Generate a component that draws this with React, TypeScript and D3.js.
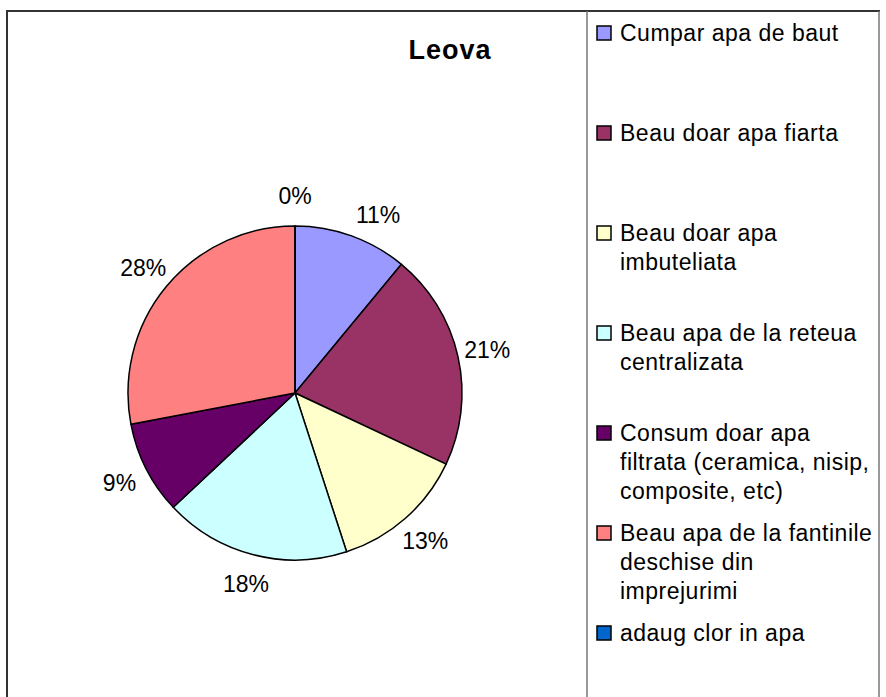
import React from "react";
import * as d3 from "d3";

const categories = [
  "Cumpar apa de baut",
  "Beau doar apa fiarta",
  "Beau doar apa\nimbuteliata",
  "Beau apa de la reteua\ncentralizata",
  "Consum doar apa\nfiltrata (ceramica, nisip,\ncomposite, etc)",
  "Beau apa de la fantinile\ndeschise din\nimprejurimi",
  "adaug clor in apa",
];
const values = [11, 21, 13, 18, 9, 28, 0];
const colors = [
  "#9999FF",
  "#993366",
  "#FFFFCC",
  "#CCFFFF",
  "#660066",
  "#FF8080",
  "#0066CC",
];
const title = "Leova";

const W = 886;
const H = 697;
const cx = 295;
const cy = 393;
const radius = 167;
const labelRadius = 197;
const font = "Arial, 'Liberation Sans', sans-serif";

const App: React.FC = () => {
  const total = d3.sum(values);
  const pie = d3
    .pie<number>()
    .value((d) => d)
    .sort(null);
  const arcs = pie(values);
  const arc = d3.arc<d3.PieArcDatum<number>>().innerRadius(0).outerRadius(radius);

  const legendY = d3.scaleLinear().domain([0, categories.length - 1]).range([33, 633]);

  // labels next to an empty slice get pushed a little away from it
  const labelAngle = (d: d3.PieArcDatum<number>, i: number) => {
    let a = (d.startAngle + d.endAngle) / 2;
    const prev = values[(i - 1 + values.length) % values.length];
    if (prev === 0 && values[i] > 0) a += 0.09;
    return a;
  };

  return (
    <svg
      width={W}
      height={H}
      style={{ position: "absolute", left: 0, top: 0, background: "#fff" }}
    >
      <rect x={0} y={0} width={W} height={H} fill="#fff" />
      {/* frame */}
      <line x1={7} y1={11} x2={7} y2={H + 5} stroke="#333" strokeWidth={2} />
      <line x1={6} y1={11} x2={880} y2={11} stroke="#333" strokeWidth={2} />
      <line x1={879} y1={11} x2={879} y2={H + 5} stroke="#777" strokeWidth={1.5} />
      <line x1={587} y1={11} x2={587} y2={H + 5} stroke="#777" strokeWidth={1.5} />

      <text
        x={450}
        y={59}
        textAnchor="middle"
        fontFamily={font}
        fontWeight="bold"
        fontSize={27}
        letterSpacing={1}
        fill="#000"
      >
        {title}
      </text>

      <g transform={`translate(${cx},${cy})`}>
        {arcs.map((d, i) => (
          <path
            key={i}
            d={arc(d) || ""}
            fill={colors[i]}
            stroke="#000"
            strokeWidth={1.5}
            strokeLinejoin="round"
          />
        ))}
        {arcs.map((d, i) => {
          const a = labelAngle(d, i);
          const x = labelRadius * Math.sin(a);
          const y = -labelRadius * Math.cos(a);
          return (
            <text
              key={i}
              x={x}
              y={y}
              dy="0.36em"
              textAnchor="middle"
              fontFamily={font}
              fontSize={23}
              fill="#000"
            >
              {d3.format(".0%")(d.data / total)}
            </text>
          );
        })}
      </g>

      <g>
        {categories.map((c, i) => {
          const y0 = legendY(i);
          const lines = c.split("\n");
          return (
            <g key={i}>
              <rect
                x={597}
                y={y0 - 7}
                width={14}
                height={14}
                fill={colors[i]}
                stroke="#000"
                strokeWidth={1.5}
              />
              {lines.map((ln, j) => (
                <text
                  key={j}
                  x={620}
                  y={y0 + j * 29}
                  dy="0.36em"
                  fontFamily={font}
                  fontSize={23}
                  letterSpacing={0.5}
                  fill="#000"
                >
                  {ln}
                </text>
              ))}
            </g>
          );
        })}
      </g>
    </svg>
  );
};

export default App;
